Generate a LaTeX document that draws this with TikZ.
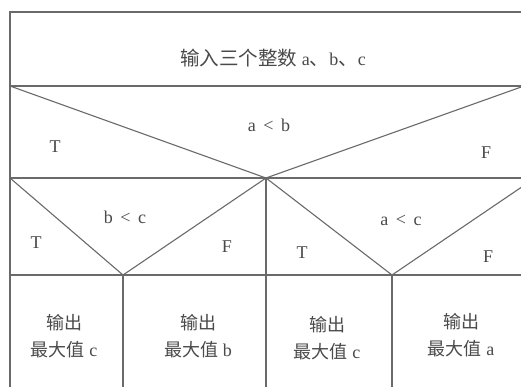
\documentclass[tikz,border=0pt]{standalone}
\usepackage{fontspec}
\setmainfont{Liberation Serif}
\newfontfamily\cjk{Noto Sans CJK SC}
\definecolor{ln}{HTML}{6A6A6A}
\definecolor{tx}{HTML}{4A4A4A}
\begin{document}
\begin{tikzpicture}[x=1pt,y=-1pt,
  ln/.style={draw=ln,line width=1.1pt},
  lbl/.style={text=tx,font=\fontsize{18}{20}\selectfont,inner sep=0pt},
  cell/.style={text=tx,font=\fontsize{18}{27}\selectfont,align=center,inner sep=0pt}]
\useasboundingbox (0,0) rectangle (521,386);
\fill[white] (0,0) rectangle (521,386);
\begin{scope}
\clip (0,0) rectangle (521,386);
% key points
\coordinate (tl) at (10,12);
\coordinate (tr) at (540,12);
\coordinate (l1) at (10,86);
\coordinate (r1) at (540,86);
\coordinate (l2) at (10,178);
\coordinate (r2) at (540,178);
\coordinate (l3) at (10,275);
\coordinate (r3) at (540,275);
\coordinate (bl) at (10,400);
\coordinate (ab) at (266,178);
\coordinate (abR) at (524,86);
\coordinate (bc) at (123,275);
\coordinate (ac) at (392,275);
\coordinate (acR) at (535,178);
\coordinate (b1) at (123,400);
\coordinate (b2) at (266,400);
\coordinate (b3) at (392,400);
% frame
\draw[ln] (tr) -- (tl) -- (bl);
\draw[ln] (l1) -- (r1);
\draw[ln] (l2) -- (r2);
\draw[ln] (l3) -- (r3);
% decisions
\draw[ln] (l1) -- (ab) -- (abR);
\draw[ln] (l2) -- (bc) -- (ab);
\draw[ln] (ab) -- (ac) -- (acR);
% verticals
\draw[ln] (bc) -- (b1);
\draw[ln] (ab) -- (b2);
\draw[ln] (ac) -- (b3);
\end{scope}
% texts
\node[lbl] (inp) at (273,58) {{\cjk\fontsize{19.5}{20}\selectfont 输入三个整数}\ a{\cjk\fontsize{19.5}{20}\selectfont 、}b{\cjk\fontsize{19.5}{20}\selectfont 、}c};
\node[lbl] (c1) at (269,125) {a\ \,<\ \,b};
\node[lbl] (t1) at (55,147) {T};
\node[lbl] (f1) at (486,153) {F};
\node[lbl] (c2) at (125,217) {b\ \,<\ \,c};
\node[lbl] (t2) at (36,243) {T};
\node[lbl] (f2) at (227,247) {F};
\node[lbl] (c3) at (401,220) {a\ \,<\ \,c};
\node[lbl] (t3) at (302,253) {T};
\node[lbl] (f3) at (488,257) {F};
\node[cell] (o1) at (64,336) {{\cjk 输出}\\{\cjk 最大值}\ c};
\node[cell] (o2) at (198,336) {{\cjk 输出}\\{\cjk 最大值}\ b};
\node[cell] (o3) at (327,338) {{\cjk 输出}\\{\cjk 最大值}\ c};
\node[cell] (o4) at (461,335) {{\cjk 输出}\\{\cjk 最大值}\ a};
\end{tikzpicture}
\end{document}
